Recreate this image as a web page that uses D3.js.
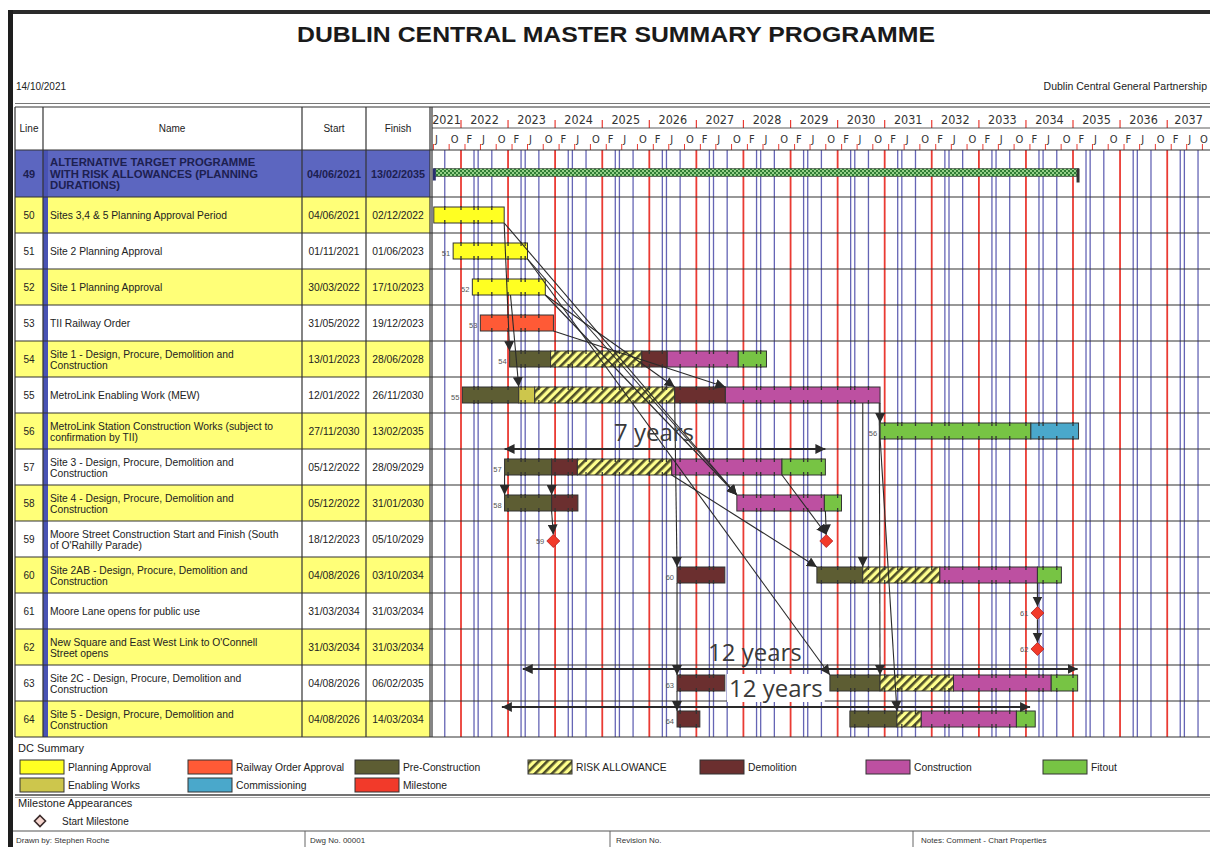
<!DOCTYPE html>
<html>
<head>
<meta charset="utf-8">
<script src="https://cdn.jsdelivr.net/npm/d3@7"></script>
<style>
  body { margin: 0; background: #fff; }
  svg text { font-family: "Liberation Sans", Arial, sans-serif; fill: #222; }
</style>
</head>
<body>
<svg id="chart" width="1210" height="847"></svg>
<script>
// ---- programme data ----
const lineNos = [49, 50, 51, 52, 53, 54, 55, 56, 57, 58, 59, 60, 61, 62, 63, 64];
const taskNames = [
  ["ALTERNATIVE TARGET PROGRAMME", "WITH RISK ALLOWANCES (PLANNING", "DURATIONS)"],
  ["Sites 3,4 & 5 Planning Approval Period"],
  ["Site 2 Planning Approval"],
  ["Site 1 Planning Approval"],
  ["TII Railway Order"],
  ["Site 1 - Design, Procure, Demolition and", "Construction"],
  ["MetroLink Enabling Work  (MEW)"],
  ["MetroLink Station Construction Works (subject to", "confirmation by TII)"],
  ["Site 3 - Design, Procure, Demolition and", "Construction"],
  ["Site 4 - Design, Procure, Demolition  and", "Construction"],
  ["Moore Street Construction Start and Finish (South", "of O'Rahilly Parade)"],
  ["Site 2AB - Design, Procure, Demolition and", "Construction"],
  ["Moore Lane opens for public use"],
  ["New Square and East West Link to O'Connell", "Street opens"],
  ["Site 2C - Design, Procure, Demolition and", "Construction"],
  ["Site 5 - Design, Procure, Demolition and", "Construction"]
];
const startLabels = ["04/06/2021", "04/06/2021", "01/11/2021", "30/03/2022", "31/05/2022", "13/01/2023",
  "12/01/2022", "27/11/2030", "05/12/2022", "05/12/2022", "18/12/2023", "04/08/2026", "31/03/2034",
  "31/03/2034", "04/08/2026", "04/08/2026"];
const finishLabels = ["13/02/2035", "02/12/2022", "01/06/2023", "17/10/2023", "19/12/2023", "28/06/2028",
  "26/11/2030", "13/02/2035", "28/09/2029", "31/01/2030", "05/10/2029", "03/10/2034", "31/03/2034",
  "31/03/2034", "06/02/2035", "14/03/2034"];

// [line, activity type, start, end]
const segments = [
  [49, "summary", "2021-06-04", "2035-02-13"],
  [50, "planning", "2021-06-04", "2022-12-02"],
  [51, "planning", "2021-11-01", "2023-06-01"],
  [52, "planning", "2022-03-30", "2023-10-17"],
  [53, "railway", "2022-05-31", "2023-12-19"],
  [54, "precon", "2023-01-13", "2023-11-27"],
  [54, "risk", "2023-11-27", "2025-11-04"],
  [54, "demolition", "2025-11-04", "2026-05-20"],
  [54, "construction", "2026-05-20", "2027-11-22"],
  [54, "fitout", "2027-11-22", "2028-06-28"],
  [55, "precon", "2022-01-12", "2023-03-25"],
  [55, "enabling", "2023-03-25", "2023-07-27"],
  [55, "risk", "2023-07-27", "2026-07-17"],
  [55, "demolition", "2026-07-17", "2027-08-14"],
  [55, "construction", "2027-08-14", "2030-11-26"],
  [56, "fitout", "2030-11-27", "2034-02-08"],
  [56, "commissioning", "2034-02-08", "2035-02-13"],
  [57, "precon", "2022-12-05", "2023-12-05"],
  [57, "demolition", "2023-12-05", "2024-06-22"],
  [57, "risk", "2024-06-22", "2026-06-24"],
  [57, "construction", "2026-06-24", "2028-10-26"],
  [57, "fitout", "2028-10-26", "2029-09-28"],
  [58, "precon", "2022-12-05", "2023-12-05"],
  [58, "demolition", "2023-12-05", "2024-06-26"],
  [58, "construction", "2027-11-11", "2029-09-20"],
  [58, "fitout", "2029-09-20", "2030-01-31"],
  [60, "demolition", "2026-08-04", "2027-08-10"],
  [60, "precon", "2029-07-24", "2030-07-15"],
  [60, "risk", "2030-07-15", "2032-03-04"],
  [60, "construction", "2032-03-04", "2034-03-31"],
  [60, "fitout", "2034-03-31", "2034-10-03"],
  [63, "demolition", "2026-08-04", "2027-08-10"],
  [63, "precon", "2029-11-02", "2030-11-26"],
  [63, "risk", "2030-11-26", "2032-06-18"],
  [63, "construction", "2032-06-18", "2034-07-16"],
  [63, "fitout", "2034-07-16", "2035-02-06"],
  [64, "demolition", "2026-08-04", "2027-01-28"],
  [64, "precon", "2030-04-06", "2031-04-06"],
  [64, "risk", "2031-04-06", "2031-10-12"],
  [64, "construction", "2031-10-12", "2033-10-19"],
  [64, "fitout", "2033-10-19", "2034-03-14"]
];

// [line, date]
const milestones = [
  [59, "2023-12-18"], [59, "2029-10-05"], [61, "2034-03-31"], [62, "2034-03-31"]
];

// dependency links: [from line, from date, to line, to date]
const links = [
  [50, "2022-12-02", 54, "2023-01-13"],
  [52, "2023-01-20", 55, "2023-03-25"],
  [50, "2022-12-02", 58, "2027-11-11"],
  [51, "2023-06-01", 58, "2027-11-11"],
  [52, "2023-10-17", 58, "2027-11-11"],
  [51, "2023-06-01", 63, "2029-11-02"],
  [53, "2023-12-19", 55, "2027-08-14"],
  [52, "2023-10-17", 55, "2026-07-17"],
  [57, "2022-12-05", 58, "2022-12-05"],
  [57, "2023-12-05", 58, "2023-12-05"],
  [58, "2023-12-05", 59, "2023-12-18"],
  [57, "2028-10-26", 59, "2029-10-05"],
  [58, "2029-09-28", 59, "2029-10-05"],
  [55, "2026-07-17", 60, "2026-08-04"],
  [60, "2026-08-04", 63, "2026-08-04"],
  [63, "2026-08-04", 64, "2026-08-04"],
  [55, "2030-11-26", 56, "2030-11-27"],
  [55, "2030-07-15", 60, "2030-07-15"],
  [55, "2030-11-20", 63, "2030-11-26"],
  [56, "2030-11-27", 64, "2031-04-06"],
  [60, "2034-03-31", 61, "2034-03-31"],
  [61, "2034-03-31", 62, "2034-03-31"],
  [57, "2026-06-24", 60, "2029-07-24"]
];

// duration call-outs
const spanLabels = ["7 years", "12 years", "12 years"];
const spanLines = [57, 63, 64];
const spanFrom = ["2022-12-05", "2023-04-25", "2022-11-14"];
const spanTo = ["2029-09-28", "2035-02-06", "2034-02-02"];
const spanTextAt = ["2026-02-06", "2028-03-30", "2028-09-09"];

const legendNames = ["Planning Approval", "Enabling Works", "Railway Order Approval", "Commissioning",
  "Pre-Construction", "Milestone", "RISK ALLOWANCE", "Demolition", "Construction", "Fitout"];
const legendKeys = ["planning", "enabling", "railway", "commissioning", "precon", "milestone",
  "risk", "demolition", "construction", "fitout"];

const footerTexts = ["Drawn by: Stephen Roche", "Dwg No. 00001", "Revision No.", "Notes: Comment - Chart Properties"];

// ---- styles ----
const fills = {
  planning: "#ffff22", enabling: "#cdc64c", railway: "#ff5a36", commissioning: "#4aa8cb",
  precon: "#5d5d33", milestone: "#f23a2a", risk: "url(#hatch)", demolition: "#6b2f2f",
  construction: "#bd50a1", fitout: "#77c444", summary: "url(#checker)"
};

const svg = d3.select("#chart");
const parse = d3.timeParse("%Y-%m-%d");
const x = d3.scaleTime()
  .domain([parse("2022-01-01"), parse("2035-01-01")])
  .range([461, 1073]);
const chartL = 432, chartR = 1210;
const tStart = x.invert(chartL), tEnd = x.invert(chartR);
const y = d3.scaleBand().domain(lineNos.slice(1)).range([197, 737]);
const rowTop = r => r === 49 ? 150 : y(r);
const rowH = r => r === 49 ? 47 : y.bandwidth();
const rowC = r => rowTop(r) + rowH(r) / 2;
const barH = 16;
const narrow = "'Liberation Sans Narrow', 'DejaVu Sans Condensed', sans-serif";

// ---- patterns & markers ----
const defs = svg.append("defs");
const hatch = defs.append("pattern").attr("id", "hatch").attr("patternUnits", "userSpaceOnUse")
  .attr("width", 6).attr("height", 6).attr("patternTransform", "rotate(45)");
hatch.append("rect").attr("width", 6).attr("height", 6).attr("fill", "#ffff8c");
hatch.append("rect").attr("width", 2.6).attr("height", 6).attr("fill", "#4e4e28");
const checker = defs.append("pattern").attr("id", "checker").attr("patternUnits", "userSpaceOnUse")
  .attr("width", 4).attr("height", 4);
checker.append("rect").attr("width", 4).attr("height", 4).attr("fill", "#2f7d35");
checker.append("rect").attr("width", 2).attr("height", 2).attr("fill", "#93cf86");
checker.append("rect").attr("x", 2).attr("y", 2).attr("width", 2).attr("height", 2).attr("fill", "#93cf86");
defs.append("marker").attr("id", "arrow").attr("viewBox", "0 0 10 10")
  .attr("refX", 10).attr("refY", 5).attr("markerWidth", 10).attr("markerHeight", 10)
  .attr("markerUnits", "userSpaceOnUse").attr("orient", "auto-start-reverse")
  .append("path").attr("d", "M0,0 L10,5 L0,10 Z").attr("fill", "#2a2a2a");
defs.append("clipPath").attr("id", "chartClip").append("rect")
  .attr("x", chartL).attr("y", 100).attr("width", chartR - chartL).attr("height", 640);

// ---- page frame & title ----
svg.append("rect").attr("x", 8).attr("y", 10).attr("width", 1202).attr("height", 4).attr("fill", "#2b2b2b");
svg.append("rect").attr("x", 8).attr("y", 10).attr("width", 5).attr("height", 837).attr("fill", "#1e1e1e");
svg.append("text").attr("x", 616).attr("y", 42).attr("text-anchor", "middle")
  .attr("font-size", 22).attr("font-weight", "bold").attr("textLength", 638)
  .attr("lengthAdjust", "spacingAndGlyphs").style("fill", "#1a1a1a")
  .text("DUBLIN CENTRAL MASTER SUMMARY PROGRAMME");
svg.append("text").attr("x", 16).attr("y", 90).attr("font-size", 10).text("14/10/2021");
svg.append("text").attr("x", 1207).attr("y", 90).attr("font-size", 10.5).attr("text-anchor", "end")
  .text("Dublin Central General Partnership");

// ---- table rows ----
const cols = [15, 43, 302, 366, 430];
const rowsG = svg.append("g");
lineNos.forEach((r, i) => {
  const bg = r === 49 ? "#5c66c0" : (r % 2 === 0 ? "#ffff78" : "#ffffff");
  rowsG.append("rect").attr("x", cols[0]).attr("y", rowTop(r)).attr("width", cols[4] - cols[0])
    .attr("height", rowH(r)).attr("fill", bg);
  const bold = r === 49;
  const c = rowC(r);
  const txtFill = bold ? "#1d2050" : "#222";
  rowsG.append("text").attr("x", 29).attr("y", c + 4).attr("text-anchor", "middle")
    .attr("font-size", bold ? 11 : 10).attr("font-weight", bold ? "bold" : "normal")
    .style("fill", txtFill).text(r);
  const lines = taskNames[i];
  const lh = bold ? 11.5 : 11;
  lines.forEach((t, k) => {
    rowsG.append("text").attr("x", 50)
      .attr("y", c + 4 + (k - (lines.length - 1) / 2) * lh)
      .attr("font-size", bold ? 11.3 : 10.3).attr("font-weight", bold ? "bold" : "normal")
      .style("fill", txtFill).text(t);
  });
  rowsG.append("text").attr("x", 334).attr("y", c + 4).attr("text-anchor", "middle")
    .attr("font-size", bold ? 10.8 : 10.3).attr("font-weight", bold ? "bold" : "normal")
    .style("fill", txtFill).text(startLabels[i]);
  rowsG.append("text").attr("x", 398).attr("y", c + 4).attr("text-anchor", "middle")
    .attr("font-size", bold ? 10.8 : 10.3).attr("font-weight", bold ? "bold" : "normal")
    .style("fill", txtFill).text(finishLabels[i]);
});
rowsG.append("rect").attr("x", 43).attr("y", 150).attr("width", 5).attr("height", 587).attr("fill", "#4852b4");

// header labels
[["Line", 29], ["Name", 172], ["Start", 334], ["Finish", 398]].forEach(([t, cx]) => {
  svg.append("text").attr("x", cx).attr("y", 132).attr("text-anchor", "middle")
    .attr("font-size", 10).text(t);
});

// ---- chart grid ----
const grid = svg.append("g").attr("clip-path", "url(#chartClip)");
const years = d3.range(2021, 2039);
const gridDates = [];
years.forEach(yr => {
  gridDates.push({ d: new Date(yr, 0, 1), kind: "year" });
  gridDates.push({ d: new Date(yr, 3, 12), kind: "blue" });
  gridDates.push({ d: new Date(yr, 4, 14), kind: "blue" });
  gridDates.push({ d: new Date(yr, 7, 28), kind: "blue" });
});
const visibleGrid = gridDates.filter(g => g.d > tStart && g.d < tEnd);
grid.selectAll("line.g").data(visibleGrid).join("line")
  .attr("x1", g => x(g.d)).attr("x2", g => x(g.d))
  .attr("y1", 150).attr("y2", 737)
  .attr("stroke", g => g.kind === "year" ? "#ea3b33" : "#4a4aa8")
  .attr("stroke-width", g => g.kind === "year" ? 1.8 : 1.3)
  .attr("stroke-opacity", g => g.kind === "year" ? 1 : 0.85);

// timescale header
const hdr = svg.append("g").attr("clip-path", "url(#chartClip)");
years.forEach(yr => {
  const a = d3.max([new Date(yr, 0, 1), tStart]);
  const b = d3.min([new Date(yr + 1, 0, 1), tEnd]);
  if (x(b) - x(a) < 20) return;
  hdr.append("text").attr("x", (x(a) + x(b)) / 2).attr("y", 124).attr("text-anchor", "middle")
    .attr("font-size", 12.5).style("font-family", narrow)
    .style("fill", "#333").text(yr);
  const j = new Date(yr, 0, 1);
  if (j > tStart && j < tEnd) {
    hdr.append("line").attr("x1", x(j)).attr("x2", x(j)).attr("y1", 120).attr("y2", 128)
      .attr("stroke", "#ea3b33").attr("stroke-width", 1.2);
  }
});
const monthTicks = d3.timeMonth.range(d3.timeMonth.floor(tStart), tEnd)
  .filter(d => [1, 5, 9].includes(d.getMonth()) && d >= tStart);
const fmtM = d3.timeFormat("%b");
monthTicks.forEach(d => {
  hdr.append("line").attr("x1", x(d)).attr("x2", x(d)).attr("y1", 144).attr("y2", 150)
    .attr("stroke", "#ea3b33").attr("stroke-width", 1);
  hdr.append("text").attr("x", Math.min(x(d) + 1.5, chartR - 10)).attr("y", 143).attr("font-size", 11)
    .style("font-family", narrow)
    .style("fill", "#333").text(fmtM(d)[0]);
});

// table & chart rules
const rules = svg.append("g").attr("stroke", "#333").attr("stroke-width", 1.2);
rules.append("line").attr("x1", 15).attr("x2", 1210).attr("y1", 103.5).attr("y2", 103.5).attr("stroke", "#777");
rules.append("line").attr("x1", 15).attr("x2", 1210).attr("y1", 107).attr("y2", 107);
rules.append("line").attr("x1", chartL).attr("x2", 1210).attr("y1", 128).attr("y2", 128).attr("stroke-width", 0.8);
const rowEdges = [150].concat(lineNos.slice(1).map(r => y(r))).concat([737]);
rowEdges.forEach(e => rules.append("line").attr("x1", 15).attr("x2", 1210).attr("y1", e).attr("y2", e));
cols.forEach(c => rules.append("line").attr("x1", c).attr("x2", c).attr("y1", 107).attr("y2", 737));
rules.append("line").attr("x1", 432).attr("x2", 432).attr("y1", 107).attr("y2", 737);

// ---- bars ----
const bars = svg.append("g");
segments.forEach(([r, type, s, e]) => {
  const x0 = x(parse(s)), x1 = x(parse(e));
  const h = type === "summary" ? 8 : barH;
  const top = type === "summary" ? rowC(r) - 5 : rowC(r) - h / 2;
  bars.append("rect").attr("x", x0).attr("y", top).attr("width", x1 - x0).attr("height", h)
    .attr("fill", fills[type]).attr("stroke", "#333").attr("stroke-width", type === "summary" ? 0.6 : 1);
  if (type === "summary") {
    bars.append("path").attr("d", `M${x1 - 2},${top} h3 v${h + 6} h-3 Z`).attr("fill", "#333");
    bars.append("path").attr("d", `M${x0 - 1},${top} h3 v${h + 4} h-3 Z`).attr("fill", "#2a2f70");
    return;
  }
  visibleGrid.filter(g => x(g.d) > x0 + 2 && x(g.d) < x1 - 2).forEach(g => {
    const gx = x(g.d);
    bars.append("line").attr("x1", gx).attr("x2", gx).attr("y1", top - 1).attr("y2", top + 3)
      .attr("stroke", "#333").attr("stroke-width", 1.3);
    bars.append("line").attr("x1", gx).attr("x2", gx).attr("y1", top + h - 3).attr("y2", top + h + 1)
      .attr("stroke", "#333").attr("stroke-width", 1.3);
  });
});

// milestone diamonds
const diamond = (cx, cy, r) => `M${cx},${cy - r} L${cx + r},${cy} L${cx},${cy + r} L${cx - r},${cy} Z`;
milestones.forEach(([r, d]) => {
  bars.append("path").attr("d", diamond(x(parse(d)), rowC(r) + 2, 6.5))
    .attr("fill", fills.milestone).attr("stroke", "#b02020").attr("stroke-width", 0.8);
});

// line numbers beside first mark of each row
lineNos.slice(2).forEach(r => {
  const starts = segments.filter(s => s[0] === r).map(s => parse(s[2]))
    .concat(milestones.filter(m => m[0] === r).map(m => parse(m[1])));
  if (!starts.length) return;
  const first = d3.min(starts);
  const isMs = !segments.some(s => s[0] === r);
  bars.append("text").attr("x", x(first) - (isMs ? 9 : 3)).attr("y", rowC(r) + 5)
    .attr("text-anchor", "end").attr("font-size", 7.5).style("fill", "#555").text(r);
});

// ---- dependency links ----
const linkG = svg.append("g");
links.forEach(([fr, fd, tr, td]) => {
  const fromMs = !segments.some(s => s[0] === fr);
  const toMs = !segments.some(s => s[0] === tr);
  const x0 = x(parse(fd)), x1 = x(parse(td));
  const y0 = fromMs ? rowC(fr) + 8.5 : rowC(fr) + barH / 2;
  const y1 = toMs ? rowC(tr) + 2 - 6.5 : rowC(tr) - barH / 2;
  linkG.append("line").attr("x1", x0).attr("y1", y0).attr("x2", x1).attr("y2", y1)
    .attr("stroke", "#2a2a2a").attr("stroke-width", 1.1).attr("marker-end", "url(#arrow)");
});

// ---- duration call-outs ----
const annG = svg.append("g");
const spanOffsets = [0, 4, 6];
spanLabels.forEach((t, i) => {
  const ly = rowTop(spanLines[i]) + spanOffsets[i];
  annG.append("line").attr("x1", x(parse(spanFrom[i]))).attr("x2", x(parse(spanTo[i])))
    .attr("y1", ly).attr("y2", ly).attr("stroke", "#2a2a2a").attr("stroke-width", 2)
    .attr("marker-start", "url(#arrow)").attr("marker-end", "url(#arrow)");
  const tx = x(parse(spanTextAt[i]));
  const ty = i === 2 ? ly - 10 : ly - 8;
  const txt = annG.append("text").attr("x", tx).attr("y", ty).attr("text-anchor", "middle")
    .attr("font-size", 24).style("font-family", "'Open Sans', sans-serif").style("fill", "#3a3a3a").text(t);
  if (i === 2) {
    const bb = txt.node().getBBox();
    annG.insert("rect", () => txt.node()).attr("x", bb.x - 2).attr("y", bb.y + 3)
      .attr("width", bb.width + 4).attr("height", bb.height - 5).attr("fill", "#fff");
  }
});

// ---- legend ----
const leg = svg.append("g");
leg.append("text").attr("x", 18).attr("y", 752).attr("font-size", 11).text("DC Summary");
const legCols = [20, 188, 355, 528, 700, 866, 1043];
const legRows = [760, 778];
legendNames.forEach((n, i) => {
  const col = i < 6 ? Math.floor(i / 2) : i - 3;
  const row = i < 6 ? i % 2 : 0;
  const lx = legCols[col], ly = legRows[row];
  leg.append("rect").attr("x", lx).attr("y", ly).attr("width", 44).attr("height", 14)
    .attr("fill", fills[legendKeys[i]]).attr("stroke", "#333").attr("stroke-width", 1);
  leg.append("text").attr("x", lx + 48).attr("y", ly + 11).attr("font-size", 10.3).text(n);
});
leg.append("line").attr("x1", 15).attr("x2", 1210).attr("y1", 795).attr("y2", 795)
  .attr("stroke", "#444").attr("stroke-width", 1.5);
leg.append("line").attr("x1", 15).attr("x2", 1210).attr("y1", 797.5).attr("y2", 797.5)
  .attr("stroke", "#999").attr("stroke-width", 0.8);
leg.append("text").attr("x", 18).attr("y", 807).attr("font-size", 11).text("Milestone Appearances");
leg.append("path").attr("d", diamond(40, 821, 5.5)).attr("fill", "#f6d6cf")
  .attr("stroke", "#3a2a2a").attr("stroke-width", 1.6);
leg.append("text").attr("x", 62).attr("y", 825).attr("font-size", 10).text("Start Milestone");

// ---- footer ----
const foot = svg.append("g");
foot.append("line").attr("x1", 13).attr("x2", 1210).attr("y1", 831).attr("y2", 831)
  .attr("stroke", "#555").attr("stroke-width", 1.2);
const footX = [16, 310, 616, 921];
[305, 610, 913].forEach(v => foot.append("line").attr("x1", v).attr("x2", v).attr("y1", 831).attr("y2", 847)
  .attr("stroke", "#666").attr("stroke-width", 1));
footerTexts.forEach((t, i) => foot.append("text").attr("x", footX[i]).attr("y", 843)
  .attr("font-size", 8).style("fill", "#333").text(t));
</script>
</body>
</html>
